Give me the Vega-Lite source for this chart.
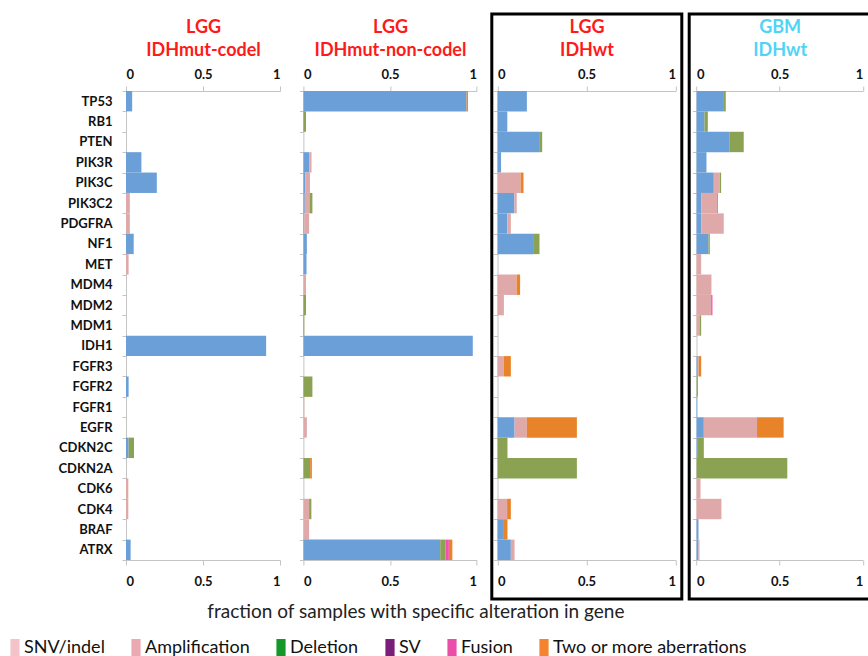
{
  "$schema": "https://vega.github.io/schema/vega-lite/v6.json",
  "autosize": {"type": "pad"},
  "padding": {"left": 6, "top": 8, "right": 0, "bottom": 0},
  "background": "white",
  "datasets": {
    "types": [
      {"type": "SNV/indel", "k": 1},
      {"type": "Amplification", "k": 2},
      {"type": "Deletion", "k": 3},
      {"type": "SV", "k": 4},
      {"type": "Fusion", "k": 5},
      {"type": "Two or more aberrations", "k": 6}
    ],
    "d": [
      {"p": "a", "gene": "TP53", "type": "SNV/indel", "v": 0.04},
      {"p": "a", "gene": "PIK3R", "type": "SNV/indel", "v": 0.10},
      {"p": "a", "gene": "PIK3C", "type": "SNV/indel", "v": 0.20},
      {"p": "a", "gene": "PIK3C2", "type": "Amplification", "v": 0.025},
      {"p": "a", "gene": "PDGFRA", "type": "Amplification", "v": 0.025},
      {"p": "a", "gene": "NF1", "type": "SNV/indel", "v": 0.05},
      {"p": "a", "gene": "MET", "type": "Amplification", "v": 0.017},
      {"p": "a", "gene": "IDH1", "type": "SNV/indel", "v": 0.91},
      {"p": "a", "gene": "FGFR2", "type": "SNV/indel", "v": 0.017},
      {"p": "a", "gene": "CDKN2C", "type": "SNV/indel", "v": 0.017},
      {"p": "a", "gene": "CDKN2C", "type": "Deletion", "v": 0.035},
      {"p": "a", "gene": "CDK6", "type": "Amplification", "v": 0.015},
      {"p": "a", "gene": "CDK4", "type": "Amplification", "v": 0.015},
      {"p": "a", "gene": "ATRX", "type": "SNV/indel", "v": 0.03},

      {"p": "b", "gene": "TP53", "type": "SNV/indel", "v": 0.942},
      {"p": "b", "gene": "TP53", "type": "Two or more aberrations", "v": 0.008},
      {"p": "b", "gene": "RB1", "type": "Deletion", "v": 0.015},
      {"p": "b", "gene": "PIK3R", "type": "SNV/indel", "v": 0.035},
      {"p": "b", "gene": "PIK3R", "type": "Amplification", "v": 0.012},
      {"p": "b", "gene": "PIK3C", "type": "SNV/indel", "v": 0.012},
      {"p": "b", "gene": "PIK3C", "type": "Amplification", "v": 0.026},
      {"p": "b", "gene": "PIK3C2", "type": "SNV/indel", "v": 0.008},
      {"p": "b", "gene": "PIK3C2", "type": "Amplification", "v": 0.027},
      {"p": "b", "gene": "PIK3C2", "type": "Deletion", "v": 0.017},
      {"p": "b", "gene": "PDGFRA", "type": "SNV/indel", "v": 0.005},
      {"p": "b", "gene": "PDGFRA", "type": "Amplification", "v": 0.028},
      {"p": "b", "gene": "NF1", "type": "SNV/indel", "v": 0.02},
      {"p": "b", "gene": "MET", "type": "SNV/indel", "v": 0.018},
      {"p": "b", "gene": "MDM4", "type": "Amplification", "v": 0.015},
      {"p": "b", "gene": "MDM2", "type": "Deletion", "v": 0.015},
      {"p": "b", "gene": "MDM1", "type": "Deletion", "v": 0.005},
      {"p": "b", "gene": "IDH1", "type": "SNV/indel", "v": 0.978},
      {"p": "b", "gene": "FGFR2", "type": "Deletion", "v": 0.052},
      {"p": "b", "gene": "FGFR1", "type": "Amplification", "v": 0.005},
      {"p": "b", "gene": "EGFR", "type": "Amplification", "v": 0.02},
      {"p": "b", "gene": "CDKN2A", "type": "Deletion", "v": 0.039},
      {"p": "b", "gene": "CDKN2A", "type": "Two or more aberrations", "v": 0.01},
      {"p": "b", "gene": "CDK4", "type": "Amplification", "v": 0.033},
      {"p": "b", "gene": "CDK4", "type": "Deletion", "v": 0.013},
      {"p": "b", "gene": "BRAF", "type": "Amplification", "v": 0.033},
      {"p": "b", "gene": "ATRX", "type": "SNV/indel", "v": 0.79},
      {"p": "b", "gene": "ATRX", "type": "Deletion", "v": 0.03},
      {"p": "b", "gene": "ATRX", "type": "Fusion", "v": 0.02},
      {"p": "b", "gene": "ATRX", "type": "Two or more aberrations", "v": 0.02},

      {"p": "c", "gene": "TP53", "type": "SNV/indel", "v": 0.165},
      {"p": "c", "gene": "RB1", "type": "SNV/indel", "v": 0.055},
      {"p": "c", "gene": "PTEN", "type": "SNV/indel", "v": 0.238},
      {"p": "c", "gene": "PTEN", "type": "Deletion", "v": 0.013},
      {"p": "c", "gene": "PIK3R", "type": "SNV/indel", "v": 0.02},
      {"p": "c", "gene": "PIK3C", "type": "Amplification", "v": 0.13},
      {"p": "c", "gene": "PIK3C", "type": "Two or more aberrations", "v": 0.016},
      {"p": "c", "gene": "PIK3C2", "type": "SNV/indel", "v": 0.095},
      {"p": "c", "gene": "PIK3C2", "type": "Amplification", "v": 0.013},
      {"p": "c", "gene": "PDGFRA", "type": "SNV/indel", "v": 0.055},
      {"p": "c", "gene": "PDGFRA", "type": "Amplification", "v": 0.02},
      {"p": "c", "gene": "NF1", "type": "SNV/indel", "v": 0.2},
      {"p": "c", "gene": "NF1", "type": "Deletion", "v": 0.036},
      {"p": "c", "gene": "MDM4", "type": "Amplification", "v": 0.107},
      {"p": "c", "gene": "MDM4", "type": "Two or more aberrations", "v": 0.02},
      {"p": "c", "gene": "MDM2", "type": "Amplification", "v": 0.036},
      {"p": "c", "gene": "FGFR3", "type": "Amplification", "v": 0.036},
      {"p": "c", "gene": "FGFR3", "type": "Two or more aberrations", "v": 0.039},
      {"p": "c", "gene": "EGFR", "type": "SNV/indel", "v": 0.096},
      {"p": "c", "gene": "EGFR", "type": "Amplification", "v": 0.069},
      {"p": "c", "gene": "EGFR", "type": "Two or more aberrations", "v": 0.281},
      {"p": "c", "gene": "CDKN2C", "type": "Deletion", "v": 0.056},
      {"p": "c", "gene": "CDKN2A", "type": "Deletion", "v": 0.446},
      {"p": "c", "gene": "CDK4", "type": "Amplification", "v": 0.054},
      {"p": "c", "gene": "CDK4", "type": "Two or more aberrations", "v": 0.021},
      {"p": "c", "gene": "BRAF", "type": "SNV/indel", "v": 0.036},
      {"p": "c", "gene": "BRAF", "type": "Two or more aberrations", "v": 0.02},
      {"p": "c", "gene": "ATRX", "type": "SNV/indel", "v": 0.075},
      {"p": "c", "gene": "ATRX", "type": "Amplification", "v": 0.021},

      {"p": "d", "gene": "TP53", "type": "SNV/indel", "v": 0.16},
      {"p": "d", "gene": "TP53", "type": "Deletion", "v": 0.016},
      {"p": "d", "gene": "RB1", "type": "SNV/indel", "v": 0.048},
      {"p": "d", "gene": "RB1", "type": "Deletion", "v": 0.02},
      {"p": "d", "gene": "PTEN", "type": "SNV/indel", "v": 0.2},
      {"p": "d", "gene": "PTEN", "type": "Deletion", "v": 0.084},
      {"p": "d", "gene": "PIK3R", "type": "SNV/indel", "v": 0.06},
      {"p": "d", "gene": "PIK3C", "type": "SNV/indel", "v": 0.104},
      {"p": "d", "gene": "PIK3C", "type": "Amplification", "v": 0.036},
      {"p": "d", "gene": "PIK3C", "type": "Deletion", "v": 0.008},
      {"p": "d", "gene": "PIK3C2", "type": "SNV/indel", "v": 0.03},
      {"p": "d", "gene": "PIK3C2", "type": "Amplification", "v": 0.094},
      {"p": "d", "gene": "PIK3C2", "type": "Deletion", "v": 0.005},
      {"p": "d", "gene": "PDGFRA", "type": "SNV/indel", "v": 0.028},
      {"p": "d", "gene": "PDGFRA", "type": "Amplification", "v": 0.136},
      {"p": "d", "gene": "NF1", "type": "SNV/indel", "v": 0.072},
      {"p": "d", "gene": "NF1", "type": "Deletion", "v": 0.008},
      {"p": "d", "gene": "MET", "type": "Amplification", "v": 0.028},
      {"p": "d", "gene": "MDM4", "type": "Amplification", "v": 0.09},
      {"p": "d", "gene": "MDM2", "type": "Amplification", "v": 0.088},
      {"p": "d", "gene": "MDM2", "type": "Fusion", "v": 0.008},
      {"p": "d", "gene": "MDM1", "type": "Amplification", "v": 0.018},
      {"p": "d", "gene": "MDM1", "type": "Deletion", "v": 0.01},
      {"p": "d", "gene": "FGFR3", "type": "SNV/indel", "v": 0.008},
      {"p": "d", "gene": "FGFR3", "type": "Amplification", "v": 0.005},
      {"p": "d", "gene": "FGFR3", "type": "Two or more aberrations", "v": 0.015},
      {"p": "d", "gene": "FGFR2", "type": "Deletion", "v": 0.008},
      {"p": "d", "gene": "FGFR1", "type": "SNV/indel", "v": 0.004},
      {"p": "d", "gene": "EGFR", "type": "SNV/indel", "v": 0.044},
      {"p": "d", "gene": "EGFR", "type": "Amplification", "v": 0.32},
      {"p": "d", "gene": "EGFR", "type": "Two or more aberrations", "v": 0.16},
      {"p": "d", "gene": "CDKN2C", "type": "SNV/indel", "v": 0.008},
      {"p": "d", "gene": "CDKN2C", "type": "Deletion", "v": 0.036},
      {"p": "d", "gene": "CDKN2A", "type": "Deletion", "v": 0.546},
      {"p": "d", "gene": "CDK6", "type": "Amplification", "v": 0.024},
      {"p": "d", "gene": "CDK4", "type": "Amplification", "v": 0.15},
      {"p": "d", "gene": "BRAF", "type": "SNV/indel", "v": 0.012},
      {"p": "d", "gene": "ATRX", "type": "SNV/indel", "v": 0.012},
      {"p": "d", "gene": "ATRX", "type": "Amplification", "v": 0.006}
    ]
  },
  "data": {"name": "d"},
  "spacing": 7.4,
  "bounds": "flush",
  "hconcat": [
    {
      "width": 169.9, "height": 585,
      "transform": [{"filter": "datum.p == 'a'"}, {"lookup": "type", "from": {"data": {"name": "types"}, "key": "type", "fields": ["k"]}}],
      "layer": [
        {
          "mark": {"type": "bar"},
          "encoding": {
            "y": {"field": "gene", "type": "nominal", "scale": {"domain": ["TP53","RB1","PTEN","PIK3R","PIK3C","PIK3C2","PDGFRA","NF1","MET","MDM4","MDM2","MDM1","IDH1","FGFR3","FGFR2","FGFR1","EGFR","CDKN2C","CDKN2A","CDK6","CDK4","BRAF","ATRX"], "range": [77, 546], "paddingInner": 0, "paddingOuter": 0}, "axis": {"title": null, "tickBand": "extent", "labelPadding": 10, "labels": true, "labelFontSize": 13}},
            "x": {"field": "v", "type": "quantitative", "stack": "zero", "scale": {"domain": [0, 1], "range": [0, 154], "nice": false}, "axis": {"orient": "top", "offset": -77, "values": [0, 0.5, 1], "format": "~g", "labelPadding": 4.5, "title": ["LGG", "IDHmut-codel"], "titleColor": "#ff1a1a"}},
            "color": {"field": "type", "type": "nominal", "scale": {"domain": ["SNV/indel","Amplification","Deletion","Fusion","Two or more aberrations"], "range": ["#6a9fd8","#e0a9a9","#8aa251","#f052b4","#e8832a"]}, "legend": null},
            "order": {"field": "k", "type": "quantitative"}
          }
        },
        {
          "mark": {"type": "rule", "opacity": 0},
          "encoding": {"x": {"datum": 0, "type": "quantitative", "axis": {"orient": "bottom", "offset": -39, "values": [0, 0.5, 1], "format": "~g", "labelPadding": 10, "title": null}}}
        },
        {
          "mark": {"type": "bar", "opacity": 0},
          "encoding": {
            "x": {"datum": 0, "type": "quantitative", "axis": null},
            "fill": {"field": "type", "type": "nominal", "scale": {"domain": ["SNV/indel","Amplification","Deletion","SV","Fusion","Two or more aberrations"], "range": ["#f3c3c9","#eaa9b3","#12992a","#7b1e7b","#ea4ea8","#f58430"]},
              "legend": {"orient": "none", "legendX": -120, "legendY": 624.5, "direction": "horizontal", "columns": 6, "title": null, "symbolOpacity": 1, "symbolStrokeWidth": 0, "symbolType": "M-0.54,-1H0.54V1H-0.54Z", "symbolSize": 289, "labelFontSize": 18, "labelFont": "Lato", "labelColor": "#111", "labelLimit": 400, "columnPadding": 22, "labelOffset": 0}}
          }
        }
      ],
      "resolve": {"axis": {"x": "independent"}}
    },
    {
      "width": 180.6, "height": 585,
      "transform": [{"filter": "datum.p == 'b'"}, {"lookup": "type", "from": {"data": {"name": "types"}, "key": "type", "fields": ["k"]}}],
      "layer": [
        {
          "mark": {"type": "bar"},
          "encoding": {
            "y": {"field": "gene", "type": "nominal", "scale": {"domain": ["TP53","RB1","PTEN","PIK3R","PIK3C","PIK3C2","PDGFRA","NF1","MET","MDM4","MDM2","MDM1","IDH1","FGFR3","FGFR2","FGFR1","EGFR","CDKN2C","CDKN2A","CDK6","CDK4","BRAF","ATRX"], "range": [77, 546], "paddingInner": 0, "paddingOuter": 0}, "axis": {"title": null, "tickBand": "extent", "labels": false}},
            "x": {"field": "v", "type": "quantitative", "stack": "zero", "scale": {"domain": [0, 1], "range": [0, 173.2], "nice": false}, "axis": {"orient": "top", "offset": -77, "values": [0, 0.5, 1], "format": "~g", "labelPadding": 4.5, "title": ["LGG", "IDHmut-non-codel"], "titleColor": "#ff1a1a"}},
            "color": {"field": "type", "type": "nominal", "scale": {"domain": ["SNV/indel","Amplification","Deletion","Fusion","Two or more aberrations"], "range": ["#6a9fd8","#e0a9a9","#8aa251","#f052b4","#e8832a"]}, "legend": null},
            "order": {"field": "k", "type": "quantitative"}
          }
        },
        {
          "mark": {"type": "rule", "opacity": 0},
          "encoding": {"x": {"datum": 0, "type": "quantitative", "axis": {"orient": "bottom", "offset": -39, "values": [0, 0.5, 1], "format": "~g", "labelPadding": 10, "title": "fraction of samples with specific alteration in gene", "titleX": 112, "titleY": 51, "titleBaseline": "middle", "titleAlign": "center", "titleFontSize": 19, "titleFontWeight": "normal", "titleColor": "#222"}}}
        }
      ],
      "resolve": {"axis": {"x": "independent"}}
    },
    {
      "width": 190, "height": 585,
      "view": {"stroke": "#000", "strokeWidth": 3},
      "transform": [{"filter": "datum.p == 'c'"}, {"lookup": "type", "from": {"data": {"name": "types"}, "key": "type", "fields": ["k"]}}],
      "layer": [
        {
          "mark": {"type": "bar"},
          "encoding": {
            "y": {"field": "gene", "type": "nominal", "scale": {"domain": ["TP53","RB1","PTEN","PIK3R","PIK3C","PIK3C2","PDGFRA","NF1","MET","MDM4","MDM2","MDM1","IDH1","FGFR3","FGFR2","FGFR1","EGFR","CDKN2C","CDKN2A","CDK6","CDK4","BRAF","ATRX"], "range": [77, 546], "paddingInner": 0, "paddingOuter": 0}, "axis": {"title": null, "tickBand": "extent", "labels": false, "offset": -5.7}},
            "x": {"field": "v", "type": "quantitative", "stack": "zero", "scale": {"domain": [0, 1], "range": [5.7, 183.7], "nice": false}, "axis": {"orient": "top", "offset": -77, "values": [0, 0.5, 1], "format": "~g", "labelPadding": 4.5, "title": ["LGG", "IDHwt"], "titleColor": "#ff1a1a"}},
            "color": {"field": "type", "type": "nominal", "scale": {"domain": ["SNV/indel","Amplification","Deletion","Fusion","Two or more aberrations"], "range": ["#6a9fd8","#e0a9a9","#8aa251","#f052b4","#e8832a"]}, "legend": null},
            "order": {"field": "k", "type": "quantitative"}
          }
        },
        {
          "mark": {"type": "rule", "opacity": 0},
          "encoding": {"x": {"datum": 0, "type": "quantitative", "axis": {"orient": "bottom", "offset": -39, "values": [0, 0.5, 1], "format": "~g", "labelPadding": 10, "title": null}}}
        }
      ],
      "resolve": {"axis": {"x": "independent"}}
    },
    {
      "width": 187, "height": 585,
      "view": {"stroke": "#000", "strokeWidth": 3},
      "transform": [{"filter": "datum.p == 'd'"}, {"lookup": "type", "from": {"data": {"name": "types"}, "key": "type", "fields": ["k"]}}],
      "layer": [
        {
          "mark": {"type": "bar"},
          "encoding": {
            "y": {"field": "gene", "type": "nominal", "scale": {"domain": ["TP53","RB1","PTEN","PIK3R","PIK3C","PIK3C2","PDGFRA","NF1","MET","MDM4","MDM2","MDM1","IDH1","FGFR3","FGFR2","FGFR1","EGFR","CDKN2C","CDKN2A","CDK6","CDK4","BRAF","ATRX"], "range": [77, 546], "paddingInner": 0, "paddingOuter": 0}, "axis": {"title": null, "tickBand": "extent", "labels": false, "offset": -7.3}},
            "x": {"field": "v", "type": "quantitative", "stack": "zero", "scale": {"domain": [0, 1], "range": [7.3, 173.6], "nice": false}, "axis": {"orient": "top", "offset": -77, "values": [0, 0.5, 1], "format": "~g", "labelPadding": 4.5, "title": ["GBM", "IDHwt"], "titleColor": "#50d4f6"}},
            "color": {"field": "type", "type": "nominal", "scale": {"domain": ["SNV/indel","Amplification","Deletion","Fusion","Two or more aberrations"], "range": ["#6a9fd8","#e0a9a9","#8aa251","#f052b4","#e8832a"]}, "legend": null},
            "order": {"field": "k", "type": "quantitative"}
          }
        },
        {
          "mark": {"type": "rule", "opacity": 0},
          "encoding": {"x": {"datum": 0, "type": "quantitative", "axis": {"orient": "bottom", "offset": -39, "values": [0, 0.5, 1], "format": "~g", "labelPadding": 10, "title": null}}}
        }
      ],
      "resolve": {"axis": {"x": "independent"}}
    }
  ],
  "config": {
    "font": "Lato",
    "view": {"stroke": null},
    "axis": {
      "grid": false,
      "domainColor": "#c4c4c4",
      "tickColor": "#c4c4c4",
      "tickSize": 4,
      "labelFont": "Lato",
      "labelFontWeight": "bold",
      "labelFontSize": 13,
      "labelColor": "#111111",
      "titleFont": "Lato",
      "titleFontSize": 18,
      "titleFontWeight": "bold",
      "titleLineHeight": 23,
      "titlePadding": 9.5
    },
    "axisX": {"tickSize": 5}
  }
}
